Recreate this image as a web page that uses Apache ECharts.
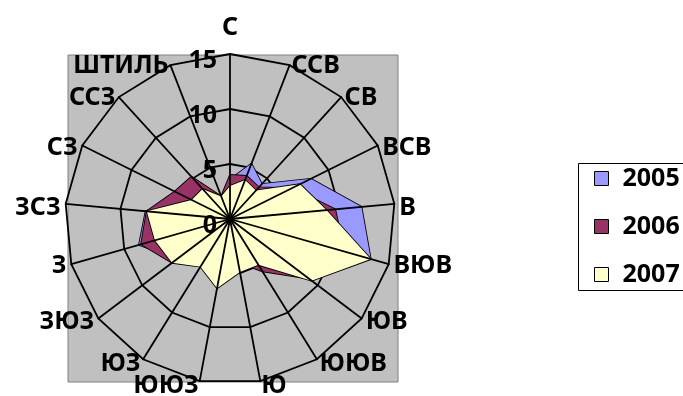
<!DOCTYPE html>
<html>
<head>
<meta charset="utf-8">
<script src="https://cdn.jsdelivr.net/npm/echarts@6/dist/echarts.min.js"></script>
<style>
  html, body { margin: 0; padding: 0; background: #fff; }
  #chart { width: 683px; height: 396px; }
</style>
</head>
<body>
<div id="chart"></div>
<script>
// Wind directions, clockwise from north, plus calm
const directions = ['С', 'ССВ', 'СВ', 'ВСВ', 'В', 'ВЮВ', 'ЮВ', 'ЮЮВ', 'Ю', 'ЮЮЗ', 'ЮЗ', 'ЗЮЗ', 'З', 'ЗСЗ', 'СЗ', 'ССЗ', 'ШТИЛЬ'];
const years = ['2005', '2006', '2007'];

// Frequency per direction (%)
const values2005 = [3.6, 5.4, 4.3, 8.2, 12.0, 13.3, 8.5, 4.5, 3.5, 5.0, 4.5, 6.0, 8.6, 7.7, 4.0, 3.5, 1.5];
const values2006 = [4.0, 4.2, 3.9, 6.3, 9.6, 10.8, 9.0, 5.6, 4.0, 5.5, 4.5, 6.6, 8.4, 7.6, 5.6, 5.2, 2.2];
const values2007 = [3.0, 3.8, 3.5, 7.1, 8.8, 13.3, 9.3, 4.9, 4.9, 6.4, 5.1, 6.6, 7.1, 7.6, 3.9, 3.7, 2.2];

const scaleMin = 0;
const scaleMax = 15;
const scaleStep = 5;

const fills = ['#9999FF', '#993366', '#FFFFCC'];
const FONT = '"Noto Sans", "Open Sans", sans-serif';

// Radar indicators run counter-clockwise; reorder so the directions read clockwise
const clockwise = arr => [arr[0]].concat(arr.slice(1).reverse());

const seriesValues = [values2005, values2006, values2007];
const upperSide = new Set([1, 2, 3, 4, 13, 14, 15, 16]);

const baseText = { fontFamily: FONT, fontSize: 25, fontWeight: 'bold', color: '#000', lineHeight: 26 };

const indicatorsBase = clockwise(directions).map(name => ({ name, min: scaleMin, max: scaleMax }));
const indicatorsTop = indicatorsBase.map((ind, i) => i === 0 ? Object.assign({}, ind, {
  axisLabel: {
    show: true, fontFamily: FONT, fontSize: 25, fontWeight: 'bold', color: '#000',
    margin: 13,
    formatter: v => '{t|' + v + '}',
    rich: { t: Object.assign({}, baseText, { padding: [13, 0, 0, 0] }) }
  }
}) : Object.assign({}, ind));

const center = [230, 219];
const radius = 165;

const chart = echarts.init(document.getElementById('chart'), null, { renderer: 'canvas' });

chart.setOption({
  animation: false,
  backgroundColor: '#fff',
  graphic: [{
    // plot-area panel
    type: 'rect', z: -10, silent: true,
    shape: { x: 68, y: 55, width: 330, height: 327 },
    style: { fill: '#C0C0C0', stroke: '#808080', lineWidth: 1 }
  }, {
    // legend frame, running past the right edge
    type: 'rect', z: -10, silent: true,
    shape: { x: 578.5, y: 163.5, width: 200, height: 127 },
    style: { fill: '#fff', stroke: '#000', lineWidth: 1 }
  }],
  legend: {
    orient: 'vertical', left: 578, top: 163,
    padding: [3, 10, 6, 16], itemGap: 23, itemWidth: 14, itemHeight: 14,
    icon: 'rect',
    itemStyle: { borderColor: '#000', borderWidth: 1 },
    textStyle: Object.assign({}, baseText, { fontSize: 25, lineHeight: 24, padding: [0, 0, 0, 9] }),
    data: years
  },
  radar: [{
    // rings and direction names, beneath the filled areas
    center, radius, shape: 'polygon', splitNumber: (scaleMax - scaleMin) / scaleStep, z: 0,
    indicator: indicatorsBase,
    axisNameGap: 5,
    axisName: Object.assign({}, baseText, {
      formatter: name => {
        const i = directions.indexOf(name);
        if (i === 0) return '{top|' + name + '}';
        return (upperSide.has(i) ? '{up|' : '{lo|') + name + '}';
      },
      rich: {
        top: Object.assign({}, baseText, { padding: [0, 0, 17, 0] }),
        up: Object.assign({}, baseText, { padding: [10, 0, 0, 0] }),
        lo: Object.assign({}, baseText)
      }
    }),
    axisLine: { show: false },
    axisTick: { show: false },
    axisLabel: { show: false },
    splitLine: { show: true, lineStyle: { color: '#000', width: 1.8 } },
    splitArea: { show: false }
  }, {
    // spokes and scale labels, drawn over the filled areas
    center, radius, shape: 'polygon', splitNumber: (scaleMax - scaleMin) / scaleStep, z: 10,
    indicator: indicatorsTop,
    axisName: { show: false },
    axisLine: { show: true, lineStyle: { color: '#000', width: 1.8 } },
    axisTick: { show: false },
    axisLabel: { show: false },
    splitLine: { show: false },
    splitArea: { show: false }
  }],
  series: years.map((year, i) => ({
    type: 'radar', radarIndex: 0, name: year, z: 2 + i, symbol: 'none', silent: true,
    itemStyle: { color: fills[i] },
    lineStyle: { color: '#000', width: 1.8 },
    areaStyle: { color: fills[i], opacity: 1 },
    data: [{ value: clockwise(seriesValues[i]), name: year }]
  }))
});
</script>
</body>
</html>
